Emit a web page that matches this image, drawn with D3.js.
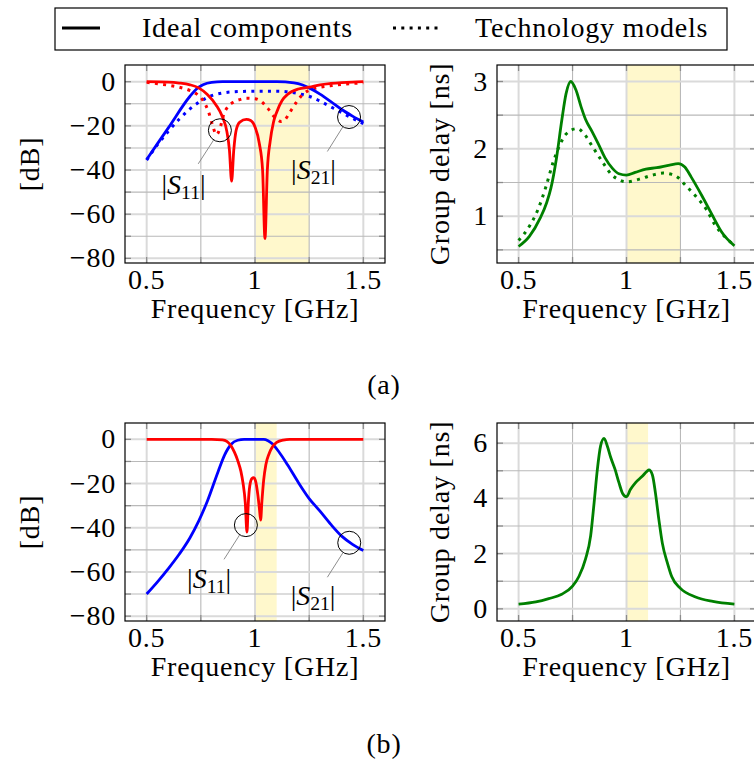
<!DOCTYPE html>
<html>
<head>
<meta charset="utf-8">
<script src="https://cdn.jsdelivr.net/npm/d3@7"></script>
<style>
  body { margin: 0; background: #fff; }
</style>
</head>
<body>
<div id="chart"></div>
<script>
// ---- data (frequency in GHz) ----
const xTicks = [0.5, 1, 1.5];
const xGrid = [0.5, 0.75, 1, 1.25, 1.5];
const dbTicks = [-80, -60, -40, -20, 0];
const dbGrid = [-80, -70, -60, -50, -40, -30, -20, -10, 0];
const gdTicksA = [1, 2, 3];
const gdGridA = [0.5, 1, 1.5, 2, 2.5, 3];
const gdTicksB = [0, 2, 4, 6];
const gdGridB = [0, 1, 2, 3, 4, 5, 6];
const bandA = [1.0, 1.25];
const bandB = [1.0, 1.1];

// (a) |S21| ideal / technology
const aS21Ideal = [[0.5,-35.2],[0.6,-20.9],[0.7,-6.6],[0.73,-3.3],[0.76,-1.4],[0.8,-0.3],[0.85,0],[0.9,0],[1.0,0],[1.1,0],[1.18,-0.5],[1.22,-1.5],[1.25,-2.8],[1.3,-5.6],[1.35,-9],[1.4,-12.6],[1.45,-15.6],[1.5,-18.3]];
const aS21Tech = [[0.5,-35.5],[0.55,-28.5],[0.6,-22.5],[0.65,-17],[0.7,-12.3],[0.75,-8.8],[0.8,-6.3],[0.85,-5.1],[0.9,-4.6],[1.0,-4.3],[1.1,-4.3],[1.15,-4.6],[1.2,-5.4],[1.25,-6.6],[1.3,-8.8],[1.35,-11.4],[1.4,-14],[1.45,-16.6],[1.5,-19]];
// (a) |S11| ideal / technology
const aS11Ideal = [[0.5,0],[0.6,-0.2],[0.65,-0.6],[0.7,-1.4],[0.74,-2.8],[0.78,-5.8],[0.82,-10.5],[0.85,-16],[0.87,-22.5],[0.882,-31],[0.892,-45],[0.902,-31],[0.913,-22],[0.93,-18.3],[0.96,-17.1],[0.98,-17.6],[1.0,-20.5],[1.02,-28],[1.035,-40],[1.046,-71],[1.057,-40],[1.07,-27],[1.085,-18.5],[1.1,-13.8],[1.125,-8.5],[1.15,-5.8],[1.2,-3.3],[1.25,-2.5],[1.3,-1.4],[1.35,-0.8],[1.4,-0.4],[1.45,-0.15],[1.5,0]];
const aS11Tech = [[0.5,-0.3],[0.55,-0.9],[0.6,-1.6],[0.65,-2.5],[0.7,-4],[0.73,-5.5],[0.76,-8.5],[0.785,-13.5],[0.805,-20],[0.822,-24],[0.84,-20.5],[0.855,-15],[0.875,-11.3],[0.9,-9.3],[0.93,-8.1],[0.96,-7.5],[1.0,-7.7],[1.03,-9],[1.06,-12.2],[1.09,-16],[1.12,-18],[1.14,-17],[1.16,-14],[1.19,-9.5],[1.22,-5.8],[1.26,-3.5],[1.3,-2.5],[1.35,-1.8],[1.4,-1.2],[1.45,-0.8],[1.5,-0.5]];
// (a) group delay [ns]
const aGdIdeal = [[0.5,0.55],[0.55,0.70],[0.6,0.97],[0.63,1.2],[0.65,1.42],[0.675,1.85],[0.7,2.42],[0.72,2.82],[0.742,3.0],[0.765,2.88],[0.79,2.62],[0.81,2.44],[0.84,2.26],[0.87,2.07],[0.9,1.87],[0.935,1.71],[0.965,1.63],[1.0,1.61],[1.04,1.65],[1.09,1.70],[1.14,1.72],[1.2,1.76],[1.24,1.78],[1.27,1.73],[1.3,1.58],[1.35,1.3],[1.4,1.0],[1.44,0.77],[1.5,0.56]];
const aGdTech = [[0.5,0.64],[0.55,0.85],[0.59,1.1],[0.625,1.42],[0.66,1.8],[0.69,2.05],[0.72,2.22],[0.77,2.3],[0.805,2.22],[0.835,2.07],[0.89,1.8],[0.93,1.62],[0.96,1.55],[1.0,1.51],[1.06,1.55],[1.12,1.61],[1.17,1.64],[1.21,1.62],[1.24,1.57],[1.27,1.47],[1.32,1.30],[1.37,1.1],[1.41,0.87],[1.46,0.68],[1.5,0.57]];

// (b) |S21|, |S11|, group delay
const bS21 = [[0.5,-70],[0.55,-64.5],[0.6,-58.5],[0.65,-52],[0.7,-44.5],[0.74,-37],[0.78,-28],[0.83,-14.5],[0.86,-7],[0.89,-2.2],[0.92,-0.4],[0.95,0],[1.04,0],[1.06,-0.6],[1.08,-2],[1.11,-5.6],[1.15,-11.5],[1.2,-19.5],[1.25,-26.8],[1.3,-32.5],[1.35,-38.5],[1.4,-43.8],[1.45,-47.5],[1.5,-50.3]];
const bS11 = [[0.5,0],[0.8,0],[0.85,-0.2],[0.87,-0.9],[0.89,-3],[0.905,-5.8],[0.92,-9.5],[0.935,-14.5],[0.945,-20],[0.955,-28.5],[0.963,-42],[0.969,-29],[0.976,-21],[0.986,-17.7],[0.994,-17.3],[1.003,-19],[1.013,-25],[1.021,-32],[1.026,-36.5],[1.032,-28],[1.04,-18.5],[1.05,-11.5],[1.065,-6.5],[1.08,-3.5],[1.1,-1.4],[1.13,-0.3],[1.16,0],[1.5,0]];
const bGd = [[0.5,0.17],[0.58,0.25],[0.64,0.37],[0.7,0.53],[0.75,0.82],[0.78,1.18],[0.81,1.8],[0.834,2.65],[0.85,3.85],[0.865,5.05],[0.88,5.9],[0.896,6.17],[0.911,5.9],[0.927,5.48],[0.947,5.05],[0.965,4.57],[0.982,4.18],[1.0,4.06],[1.018,4.32],[1.042,4.57],[1.073,4.8],[1.096,4.99],[1.104,5.03],[1.12,4.85],[1.134,4.2],[1.15,3.23],[1.166,2.38],[1.19,1.65],[1.21,1.16],[1.25,0.74],[1.32,0.43],[1.4,0.27],[1.5,0.17]];

// annotation anchors in data coords: circle centre, pin end, label centre
const notesA = [
  {sub: '11', c: [0.838, -22.0], pin: [0.738, -37.2], lab: [0.670, -47.7]},
  {sub: '21', c: [1.434, -16.0], pin: [1.334, -31.6], lab: [1.270, -40.9]}
];
const notesB = [
  {sub: '11', c: [0.958, -38.8], pin: [0.857, -54.3], lab: [0.788, -64.1]},
  {sub: '21', c: [1.435, -46.8], pin: [1.334, -62.4], lab: [1.268, -71.8]}
];

const W = 754, H = 762, FS = 28;
const FONT = 'Liberation Serif';
const svg = d3.select('#chart').append('svg')
  .attr('width', W).attr('height', H);

function txt(sel) {
  return sel.append('text')
    .attr('font-family', FONT).attr('font-size', FS)
    .attr('letter-spacing', 0.8).attr('fill', '#000');
}

function drawPanel(p) {
  const x = d3.scaleLinear().domain([0.4, 1.6]).range([p.left, p.right]);
  const y = d3.scaleLinear().domain(p.yDomain).range([p.bottom, p.top]);
  const g = svg.append('g');
  const h = p.bottom - p.top, w = p.right - p.left;

  // highlighted band
  g.append('rect')
    .attr('x', x(p.band[0])).attr('y', p.top)
    .attr('width', x(p.band[1]) - x(p.band[0])).attr('height', h)
    .attr('fill', '#fff8cc');

  // grid: major lines light & thick, minor ones darker & thin
  const isMajorX = v => p.xTicks.includes(v);
  const isMajorY = v => p.yTicks.includes(v);
  g.selectAll('.gx').data(xGrid).enter().append('line')
    .attr('x1', d => x(d)).attr('x2', d => x(d))
    .attr('y1', p.top).attr('y2', p.bottom)
    .attr('stroke', d => isMajorX(d) ? '#dadada' : '#b9b9b9')
    .attr('stroke-width', d => isMajorX(d) ? 2 : 1.1);
  g.selectAll('.gy').data(p.yGrid).enter().append('line')
    .attr('y1', d => y(d)).attr('y2', d => y(d))
    .attr('x1', p.left).attr('x2', p.right)
    .attr('stroke', d => isMajorY(d) ? '#dadada' : '#b9b9b9')
    .attr('stroke-width', d => isMajorY(d) ? 2 : 1.1);

  // small inner ticks on all four sides
  const tk = 6;
  xGrid.forEach(v => {
    g.append('line').attr('x1', x(v)).attr('x2', x(v)).attr('y1', p.bottom).attr('y2', p.bottom - tk).attr('stroke', '#8c8c8c').attr('stroke-width', 1.3);
    g.append('line').attr('x1', x(v)).attr('x2', x(v)).attr('y1', p.top).attr('y2', p.top + tk).attr('stroke', '#8c8c8c').attr('stroke-width', 1.3);
  });
  p.yGrid.forEach(v => {
    g.append('line').attr('y1', y(v)).attr('y2', y(v)).attr('x1', p.left).attr('x2', p.left + tk).attr('stroke', '#8c8c8c').attr('stroke-width', 1.3);
    g.append('line').attr('y1', y(v)).attr('y2', y(v)).attr('x1', p.right).attr('x2', p.right - tk).attr('stroke', '#8c8c8c').attr('stroke-width', 1.3);
  });

  // curves
  const line = d3.line().x(d => x(d[0])).y(d => y(d[1])).curve(d3.curveMonotoneX);
  p.series.forEach(s => {
    g.append('path').datum(s.data)
      .attr('fill', 'none')
      .attr('stroke', s.color)
      .attr('stroke-width', s.dotted ? 3 : 2.8)
      .attr('stroke-linejoin', 'round')
      .attr('stroke-dasharray', s.dotted ? '3,5.3' : null)
      .attr('d', line);
  });

  // annotations
  (p.notes || []).forEach(n => {
    const cx = x(n.c[0]), cy = y(n.c[1]), r = 11.5;
    const px = x(n.pin[0]), py = y(n.pin[1]);
    const ang = Math.atan2(py - cy, px - cx);
    g.append('circle').attr('cx', cx).attr('cy', cy).attr('r', r)
      .attr('fill', 'none').attr('stroke', '#000').attr('stroke-width', 1);
    g.append('line')
      .attr('x1', cx + r * Math.cos(ang)).attr('y1', cy + r * Math.sin(ang))
      .attr('x2', px).attr('y2', py)
      .attr('stroke', '#808080').attr('stroke-width', 0.9);
    const t = txt(g)
      .attr('x', x(n.lab[0])).attr('y', y(n.lab[1]) + 7)
      .attr('letter-spacing', 0)
      .attr('text-anchor', 'middle');
    t.append('tspan').text('|');
    t.append('tspan').attr('font-style', 'italic').text('S');
    t.append('tspan').attr('dy', 5).attr('font-size', FS * 0.7).text(n.sub);
    t.append('tspan').attr('dy', -5).text('|');
  });

  // frame
  g.append('rect').attr('x', p.left).attr('y', p.top).attr('width', w).attr('height', h)
    .attr('fill', 'none').attr('stroke', '#000').attr('stroke-width', 1.2);

  // tick labels
  p.xTicks.forEach(d => {
    txt(g).attr('x', x(d)).attr('y', p.bottom + 26)
      .attr('text-anchor', 'middle').text(d3.format('')(d));
  });
  p.yTicks.forEach(d => {
    txt(g).attr('x', p.left - 9).attr('y', y(d) + 9)
      .attr('text-anchor', 'end')
      .text(d < 0 ? '\u2212' + Math.abs(d) : d);
  });

  // axis titles
  txt(g).attr('x', x(1)).attr('y', p.bottom + 55)
    .attr('text-anchor', 'middle')
    .text('Frequency [GHz]');
  txt(g)
    .attr('transform', 'translate(' + p.yLabelX + ',' + ((p.top + p.bottom) / 2) + ') rotate(-90)')
    .attr('text-anchor', 'middle')
    .text(p.yLabel);
}

// (a)
drawPanel({left: 125, right: 385, top: 65, bottom: 263, yDomain: [-82.1, 7.56],
  xTicks: xTicks, yTicks: dbTicks, yGrid: dbGrid, band: bandA, yLabel: '[dB]', yLabelX: 39,
  series: [
    {data: aS21Tech, color: '#0000ff', dotted: true},
    {data: aS11Tech, color: '#ff0000', dotted: true},
    {data: aS21Ideal, color: '#0000ff'},
    {data: aS11Ideal, color: '#ff0000'}
  ], notes: notesA});
drawPanel({left: 497, right: 756, top: 65, bottom: 263, yDomain: [0.305, 3.245],
  xTicks: xTicks, yTicks: gdTicksA, yGrid: gdGridA, band: bandA, yLabel: 'Group delay [ns]', yLabelX: 449,
  series: [
    {data: aGdTech, color: '#008000', dotted: true},
    {data: aGdIdeal, color: '#008000'}
  ]});
// (b)
drawPanel({left: 125, right: 385, top: 423, bottom: 621, yDomain: [-82.2, 7.4],
  xTicks: xTicks, yTicks: dbTicks, yGrid: dbGrid, band: bandB, yLabel: '[dB]', yLabelX: 39,
  series: [
    {data: bS21, color: '#0000ff'},
    {data: bS11, color: '#ff0000'}
  ], notes: notesB});
drawPanel({left: 497, right: 756, top: 423, bottom: 621, yDomain: [-0.44, 6.73],
  xTicks: xTicks, yTicks: gdTicksB, yGrid: gdGridB, band: bandB, yLabel: 'Group delay [ns]', yLabelX: 449,
  series: [
    {data: bGd, color: '#008000'}
  ]});

// legend
const lg = svg.append('g');
lg.append('rect').attr('x', 55).attr('y', 8).attr('width', 672).attr('height', 42)
  .attr('fill', '#fff').attr('stroke', '#000').attr('stroke-width', 1.2);
lg.append('line').attr('x1', 62).attr('x2', 100).attr('y1', 28).attr('y2', 28)
  .attr('stroke', '#000').attr('stroke-width', 2.8);
txt(lg).attr('x', 142).attr('y', 37).text('Ideal components');
lg.append('line').attr('x1', 393).attr('x2', 441).attr('y1', 28).attr('y2', 28)
  .attr('stroke', '#000').attr('stroke-width', 3).attr('stroke-dasharray', '3,5.3');
txt(lg).attr('x', 475).attr('y', 37).text('Technology models');

// sub-figure captions
txt(svg).attr('x', 384).attr('y', 394).attr('text-anchor', 'middle').text('(a)');
txt(svg).attr('x', 384).attr('y', 753).attr('text-anchor', 'middle').text('(b)');
</script>
</body>
</html>
